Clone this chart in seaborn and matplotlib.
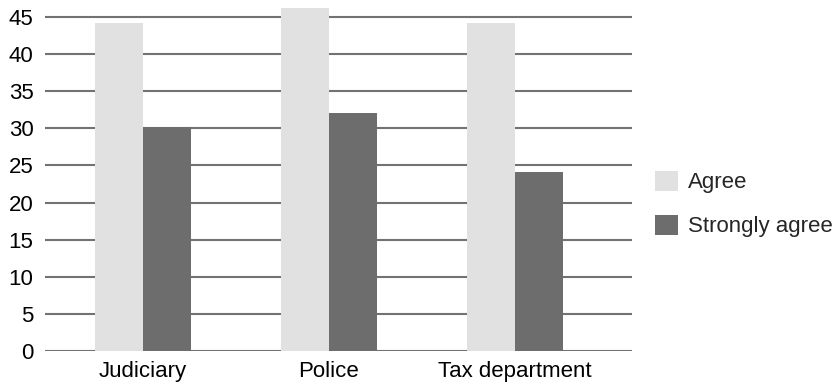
import matplotlib
matplotlib.use("Agg")
import matplotlib.pyplot as plt
import seaborn as sns
import pandas as pd

# Survey results: trust in institutions
categories = ["Judiciary", "Police", "Tax department"]
agree = [44.2, 46.2, 44.2]
strongly_agree = [30.2, 32.1, 24.1]
series_names = ["Agree", "Strongly agree"]
y_ticks = [0, 5, 10, 15, 20, 25, 30, 35, 40, 45]

df = pd.DataFrame({
    "category": categories * 2,
    "response": [series_names[0]] * 3 + [series_names[1]] * 3,
    "value": agree + strongly_agree,
})

sns.set_theme(style="white")
plt.rcParams["font.family"] = ["Liberation Sans", "DejaVu Sans"]

fig = plt.figure(figsize=(8.35, 3.87), dpi=100)
ax = fig.add_axes([44.5 / 835, 1 - 351 / 387, (632 - 44.5) / 835, 351 / 387])

palette = {"Agree": "#e1e1e1", "Strongly agree": "#6d6d6d"}
sns.barplot(data=df, x="category", y="value", hue="response",
            palette=palette, saturation=1, width=0.516, gap=0,
            dodge=True, ax=ax, zorder=3, linewidth=0, edgecolor="none")

ax.set_ylim(0, 351 / 7.422)
ax.set_xlim(-0.53, 2.63)
ax.set_yticks(y_ticks)
ax.set_xlabel("")
ax.set_ylabel("")
for s in ax.spines.values():
    s.set_visible(False)
ax.yaxis.grid(True, color="#727272", linewidth=1.5)
ax.xaxis.grid(False)
ax.set_axisbelow(True)
ax.tick_params(axis="both", length=0, labelsize=16, colors="black")
ax.tick_params(axis="y", pad=8)
ax.tick_params(axis="x", pad=7)

handles, labels = ax.get_legend_handles_labels()
if ax.get_legend() is not None:
    ax.get_legend().remove()
fig.legend(handles, labels, loc="center left",
           bbox_to_anchor=(655 / 835, 1 - 204 / 387),
           frameon=False, fontsize=16, handlelength=1.04, handleheight=1.04,
           handletextpad=0.45, labelspacing=0.95, borderpad=0,
           borderaxespad=0)

fig.savefig("out.png", dpi=100)
